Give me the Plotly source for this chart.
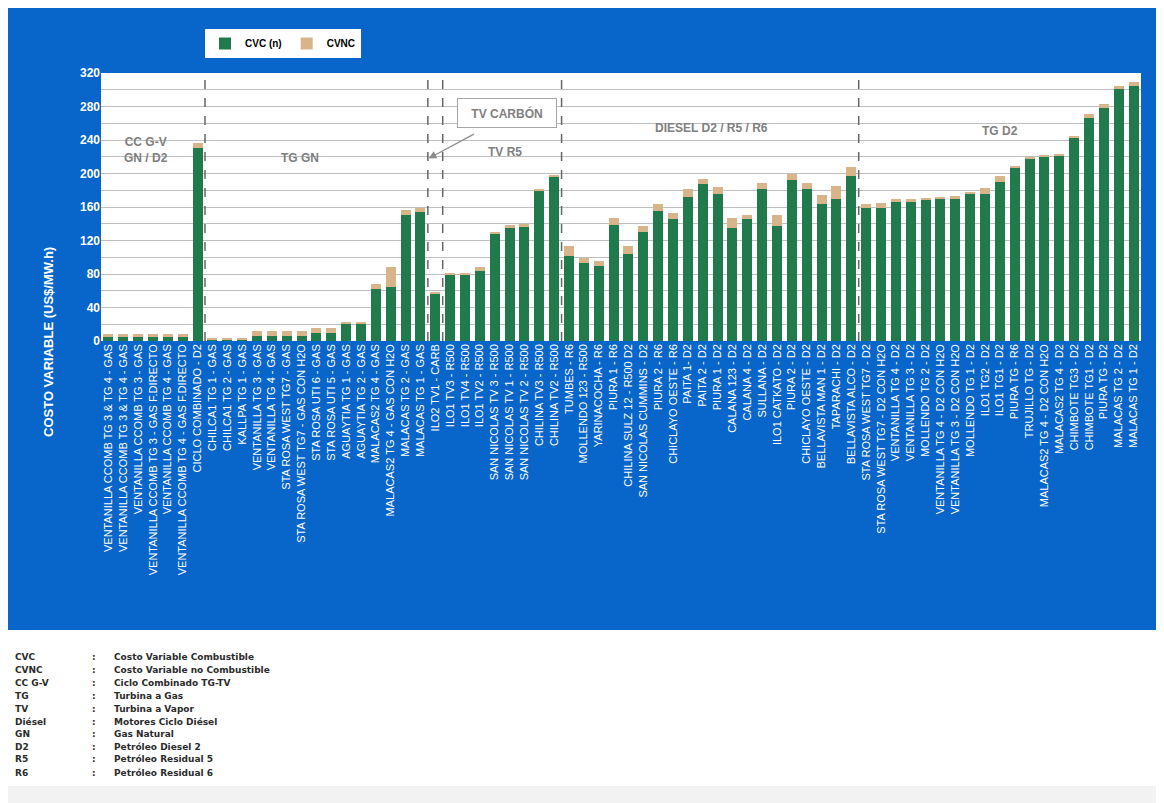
import plotly.graph_objects as go

plantas = [
    "VENTANILLA CCOMB TG 3 & TG 4 - GAS", "VENTANILLA CCOMB TG 3 & TG 4 - GAS",
    "VENTANILLA CCOMB TG 3 - GAS", "VENTANILLA CCOMB TG 3 - GAS F.DIRECTO",
    "VENTANILLA CCOMB TG 4 - GAS", "VENTANILLA CCOMB TG 4 - GAS F.DIRECTO",
    "CICLO COMBINADO - D2",
    "CHILCA1 TG 1 - GAS", "CHILCA1 TG 2 - GAS", "KALLPA TG 1 - GAS",
    "VENTANILLA TG 3 - GAS", "VENTANILLA TG 4 - GAS",
    "STA ROSA WEST TG7 - GAS", "STA ROSA WEST TG7 - GAS CON H2O",
    "STA ROSA UTI 6 - GAS", "STA ROSA UTI 5 - GAS",
    "AGUAYTIA TG 1 - GAS", "AGUAYTIA TG 2 - GAS",
    "MALACAS2 TG 4 - GAS", "MALACAS2 TG 4 - GAS CON H2O",
    "MALACAS TG 2 - GAS", "MALACAS TG 1 - GAS",
    "ILO2 TV1 - CARB",
    "ILO1 TV3 - R500", "ILO1 TV4 - R500", "ILO1 TV2 - R500",
    "SAN NICOLAS TV 3 - R500", "SAN NICOLAS TV 1 - R500", "SAN NICOLAS TV 2 - R500",
    "CHILINA TV3 - R500", "CHILINA TV2 - R500",
    "TUMBES - R6", "MOLLENDO 123 - R500", "YARINACOCHA - R6", "PIURA 1 - R6",
    "CHILINA SULZ 12 - R500 D2", "SAN NICOLAS CUMMINS - D2", "PIURA 2 - R6",
    "CHICLAYO OESTE - R6", "PAITA 1- D2", "PAITA 2 - D2", "PIURA 1 - D2",
    "CALANA 123 - D2", "CALANA 4 - D2", "SULLANA - D2", "ILO1 CATKATO - D2",
    "PIURA 2 - D2", "CHICLAYO OESTE - D2", "BELLAVISTA MAN 1 - D2",
    "TAPARACHI - D2", "BELLAVISTA ALCO - D2",
    "STA ROSA WEST TG7 - D2", "STA ROSA WEST TG7 - D2 CON H2O",
    "VENTANILLA TG 4 - D2", "VENTANILLA TG 3 - D2", "MOLLENDO TG 2 - D2",
    "VENTANILLA TG 4 - D2 CON H2O", "VENTANILLA TG 3 - D2 CON H2O",
    "MOLLENDO TG 1 - D2", "ILO1 TG2 - D2", "ILO1 TG1 - D2", "PIURA TG - R6",
    "TRUJILLO TG - D2", "MALACAS2 TG 4 - D2 CON H2O", "MALACAS2 TG 4 - D2",
    "CHIMBOTE TG3 - D2", "CHIMBOTE TG1 - D2", "PIURA TG - D2",
    "MALACAS TG 2 - D2", "MALACAS TG 1 - D2",
]

cvc = [
    5, 5, 5, 5, 5, 5, 230,
    1, 1, 1, 6.5, 6.5, 6.5, 6.5, 9, 9, 20, 20, 62, 64, 151, 154,
    56.5,
    79, 79, 83, 128, 135, 136.5, 180, 196,
    101.5, 93.5, 90, 138, 104, 130.5, 155, 145.5, 171.5, 187, 176,
    134.5, 145.5, 181, 137.5, 192, 181.5, 163, 170, 197,
    158.5, 158.5, 165.5, 166.5, 169.5, 169, 169, 176.5, 175, 190,
    207, 217, 220, 222, 242, 266.5, 278.5, 300.5, 305,
]

cvnc = [
    3, 3, 3, 3, 3, 3, 6,
    2.5, 2.5, 2.5, 6, 6, 6, 6, 7, 7, 3, 3, 6, 24, 5, 5,
    2.5,
    2, 2, 5, 2, 3.5, 3, 2, 2,
    12, 6, 5.5, 8.5, 9.5, 7, 8, 7.5, 10, 6.5, 8,
    12, 5, 7.5, 13, 8, 7, 11, 15.5, 11,
    4.5, 6, 4, 3, 0.5, 3.5, 4.5, 0.5, 8, 7,
    2.5, 2.5, 2, 1.5, 3, 4, 4, 4.5, 4,
]

y_ticks = [0, 40, 80, 120, 160, 200, 240, 280, 320]

# bordes entre grupos (indice de la ultima barra de cada grupo)
separadores = [6, 21, 22, 30, 50]

glosario = [
    ("CVC", "Costo Variable Combustible"),
    ("CVNC", "Costo Variable no Combustible"),
    ("CC G-V", "Ciclo Combinado TG-TV"),
    ("TG", "Turbina a Gas"),
    ("TV", "Turbina a Vapor"),
    ("Diésel", "Motores Ciclo Diésel"),
    ("GN", "Gas Natural"),
    ("D2", "Petróleo Diesel 2"),
    ("R5", "Petróleo Residual 5"),
    ("R6", "Petróleo Residual 6"),
]

# la pagina tiene 8px de margen en el body
OFF = 8
W, H = 1164 - OFF, 803 - OFF
L, R, T, B = 93, 23, 65, 462
BLUE = '#0865C9'
GREEN = '#207A4B'
TAN = '#D8B48A'
GRAY_TXT = '#808080'


def px_x(px):
    return (px - OFF - L) / (W - L - R)


def px_y(py):
    return (H - B - (py - OFF)) / (H - T - B)


x = list(range(len(plantas)))

fig = go.Figure()
fig.add_trace(go.Bar(x=x, y=cvc, name='CVC (n)', marker=dict(color=GREEN, line=dict(width=0)),
                     width=0.68))
fig.add_trace(go.Bar(x=x, y=cvnc, name='CVNC', marker=dict(color=TAN, line=dict(width=0)),
                     width=0.68))

shapes = []
for s in separadores:
    shapes.append(dict(type='line', xref='x', yref='y', x0=s + 0.5, x1=s + 0.5, y0=0, y1=318,
                       line=dict(color='#666666', width=1.5, dash='dash')))

# zona blanca inferior y borde derecho
shapes.append(dict(type='rect', xref='paper', yref='paper', layer='above',
                   x0=px_x(0), x1=px_x(1170), y0=px_y(630), y1=px_y(810),
                   fillcolor='white', line=dict(width=0)))
shapes.append(dict(type='rect', xref='paper', yref='paper', layer='above',
                   x0=px_x(0), x1=px_x(1170), y0=px_y(786), y1=px_y(810),
                   fillcolor='#F2F2F2', line=dict(width=0)))
shapes.append(dict(type='rect', xref='paper', yref='paper', layer='above',
                   x0=px_x(1160), x1=px_x(1170), y0=px_y(0), y1=px_y(630),
                   fillcolor='white', line=dict(width=0)))

annotations = []
grupo_font = dict(color=GRAY_TXT, size=12, family='Arial', weight='bold')
for txt, gx, gy in [("CC G-V<br>GN / D2", 2.5, 228), ("TG GN", 12.9, 218),
                    ("TV R5", 26.7, 226), ("DIESEL D2 / R5 / R6", 40.6, 254),
                    ("TG D2", 60.0, 251)]:
    annotations.append(dict(x=gx, y=gy, xref='x', yref='y', text=txt, showarrow=False,
                            font=grupo_font))
annotations.append(dict(x=26.8, y=272, xref='x', yref='y', text="TV CARBÓN", showarrow=False,
                        font=grupo_font, bgcolor='white', bordercolor='#A6A6A6', borderwidth=1,
                        width=96, height=26, borderpad=1))
annotations.append(dict(x=21.55, y=218, xref='x', yref='y', ax=24.7, ay=248,
                        axref='x', ayref='y', text='', showarrow=True, arrowhead=2,
                        arrowsize=1.3, arrowwidth=1.2, arrowcolor='#8C8C8C'))

annotations.append(dict(x=px_x(48), y=px_y(342), xref='paper', yref='paper',
                        xanchor='center', yanchor='middle',
                        text="COSTO VARIABLE (US$/MW.h)", textangle=-90, showarrow=False,
                        font=dict(color='white', size=13, family='Arial', weight='bold')))

gl_font = dict(color='#2B2B2B', size=9, family='DejaVu Sans', weight='bold')
row_y = [657, 670, 683, 696, 709, 722, 734, 747, 759, 773]
for (abbr, desc), ry in zip(glosario, row_y):
    for tx, px in [(abbr, 13), (':', 90), (desc, 112)]:
        annotations.append(dict(x=px_x(px), y=px_y(ry), xref='paper', yref='paper', text=tx,
                                showarrow=False, xanchor='left', yanchor='middle', font=gl_font))

fig.update_layout(
    barmode='stack',
    width=W,
    height=H,
    autosize=False,
    margin=dict(l=L, r=R, t=T, b=B),
    paper_bgcolor=BLUE,
    plot_bgcolor='white',
    shapes=shapes,
    annotations=annotations,
    showlegend=True,
    legend=dict(orientation='h', x=px_x(205), y=px_y(29), xanchor='left', yanchor='top',
                bgcolor='white', font=dict(color='black', size=10, family='Arial', weight='bold'),
                itemwidth=30, traceorder='normal'),
    xaxis=dict(
        tickmode='array', tickvals=x, ticktext=plantas, tickangle=-90,
        range=[-0.5, len(plantas) - 0.5],
        tickfont=dict(color='white', size=11, family='Arial'),
        showgrid=False, zeroline=False, ticks='', showline=False,
    ),
    yaxis=dict(
        range=[0, 320], tickvals=y_ticks, showgrid=True, gridcolor='#BFBFBF', gridwidth=1,
        minor=dict(dtick=20, showgrid=True, gridcolor='#BFBFBF', gridwidth=1),
        tickfont=dict(color='white', size=12, family='Arial', weight='bold'),
        zeroline=False, ticks='', showline=False,
    ),
)

fig.write_html("out.html")
